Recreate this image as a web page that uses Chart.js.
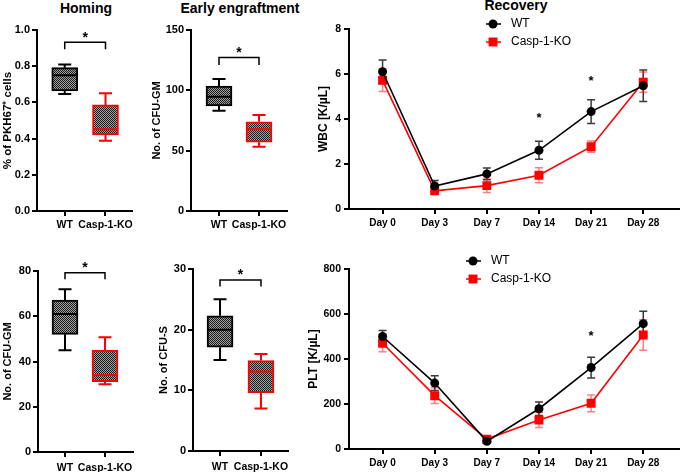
<!DOCTYPE html>
<html>
<head>
<meta charset="utf-8">
<script src="https://cdn.jsdelivr.net/npm/chart.js@4.4.1/dist/chart.umd.min.js"></script>
<style>
    body { margin: 0; background: #fff; width: 685px; height: 472px; position: relative; overflow: hidden; font-family: "Liberation Sans", Arial, sans-serif; }
    canvas { position: absolute; }
    .ttl { position: absolute; width: 160px; text-align: center; font-weight: bold; font-size: 14px; line-height: 14px; white-space: nowrap; }
</style>
</head>
<body>
<div class="ttl" style="left:6px; top:1px;">Homing</div>
<div class="ttl" style="left:160px; top:1px;">Early engraftment</div>
<div class="ttl" style="left:436px; top:-2px;">Recovery</div>

<canvas id="homing" width="150" height="240" style="left:0; top:0;"></canvas>
<canvas id="engraft" width="150" height="240" style="left:150px; top:0;"></canvas>
<canvas id="wbc" width="385" height="240" style="left:300px; top:0;"></canvas>
<canvas id="cfugm" width="150" height="232" style="left:0; top:240px;"></canvas>
<canvas id="cfus" width="150" height="232" style="left:150px; top:240px;"></canvas>
<canvas id="plt" width="385" height="232" style="left:300px; top:240px;"></canvas>

<script>
// box plots: [min, q1, median, q3, max]
const groups = ['WT', 'Casp-1-KO'];
const homingWT = [0.646, 0.664, 0.75, 0.792, 0.81];
const homingKO = [0.388, 0.42, 0.451, 0.586, 0.65];
const engraftWT = [83, 87, 94.7, 103.6, 109.4];
const engraftKO = [53.3, 57, 67.7, 74, 79.5];
const cfugmWT = [45, 52, 61, 67.2, 71.9];
const cfugmKO = [29.9, 31.1, 34, 45, 50.7];
const cfusWT = [15, 17.1, 20, 22.3, 25];
const cfusKO = [7, 9.6, 13.1, 14.9, 16];

// significance brackets: [bar, ends, star]
const homingSig = [0.932, 0.893, 0.975];
const engraftSig = [127.3, 121, 134.5];
const cfugmSig = [79.2, 76.3, 83.2];
const cfusSig = [28.2, 27.1, 29.7];

// recovery time course (mean, SEM)
const days = ['Day 0', 'Day 3', 'Day 7', 'Day 14', 'Day 21', 'Day 28'];
const wbcWT = [6.1, 1.02, 1.56, 2.61, 4.33, 5.48];
const wbcWTErr = [0.52, 0.25, 0.26, 0.4, 0.53, 0.7];
const wbcKO = [5.72, 0.81, 1.04, 1.5, 2.77, 5.64];
const wbcKOErr = [0.5, 0.12, 0.31, 0.33, 0.25, 0.45];
const wbcStars = [null, null, null, 4.18, 5.84, null];
const pltWT = [500, 293, 34, 179, 362, 557];
const pltWTErr = [27, 33, 8, 30, 46, 55];
const pltKO = [470, 237, 44, 129, 203, 507];
const pltKOErr = [38, 35, 10, 33, 37, 68];
const pltStars = [null, null, null, null, 515, null];

const FONT = '"Liberation Sans", Arial, sans-serif';
Chart.defaults.font.family = FONT;
Chart.defaults.color = '#000';

const axisGrid = { drawOnChartArea: false, drawTicks: true, tickLength: 5, color: '#000', lineWidth: 2 };
const axisBorder = { color: '#000', width: 2 };

function drawStar(ctx, x, yc, size) {
    ctx.font = 'bold ' + size + 'px ' + FONT;
    ctx.fillStyle = '#000';
    ctx.textAlign = 'center';
    ctx.textBaseline = 'alphabetic';
    ctx.fillText('*', x, yc + 0.56 * size);
}

function checker(ctx) {
    const tile = document.createElement('canvas');
    tile.width = 2; tile.height = 2;
    const g = tile.getContext('2d');
    g.fillStyle = '#a0a0a0'; g.fillRect(0, 0, 2, 2);
    g.fillStyle = '#1c1c1c'; g.fillRect(0, 0, 1, 1); g.fillRect(1, 1, 1, 1);
    return ctx.createPattern(tile, 'repeat');
}

const boxExtras = {
    id: 'boxExtras',
    afterDatasetsDraw(chart, args, o) {
        const { ctx, scales: { x, y } } = chart;
        ctx.save();
        ctx.lineWidth = 2;
        o.stats.forEach((s, i) => {
            const cx = x.getPixelForValue(i);
            ctx.strokeStyle = o.colors[i];
            ctx.beginPath();
            ctx.moveTo(cx, y.getPixelForValue(s[3])); ctx.lineTo(cx, y.getPixelForValue(s[4]));
            ctx.moveTo(cx, y.getPixelForValue(s[1])); ctx.lineTo(cx, y.getPixelForValue(s[0]));
            [s[0], s[4]].forEach(v => {
                const py = y.getPixelForValue(v);
                ctx.moveTo(cx - o.cap, py); ctx.lineTo(cx + o.cap, py);
            });
            const pm = y.getPixelForValue(s[2]);
            ctx.moveTo(cx - o.half, pm); ctx.lineTo(cx + o.half, pm);
            ctx.stroke();
        });
        const [bar, end, star] = o.bracket;
        const x0 = x.getPixelForValue(0), x1 = x.getPixelForValue(1);
        ctx.strokeStyle = '#000';
        ctx.lineWidth = 1.5;
        ctx.beginPath();
        ctx.moveTo(x0, y.getPixelForValue(end));
        ctx.lineTo(x0, y.getPixelForValue(bar));
        ctx.lineTo(x1, y.getPixelForValue(bar));
        ctx.lineTo(x1, y.getPixelForValue(end));
        ctx.stroke();
        drawStar(ctx, (x0 + x1) / 2, y.getPixelForValue(star), 14);
        ctx.restore();
    }
};

function boxChart(id, stats, bracket, opt) {
    const el = document.getElementById(id);
    const cols = ['#000000', '#ff0000'];
    new Chart(el, {
        type: 'bar',
        data: {
            datasets: [{
                data: stats.map((s, i) => ({ x: i, y: [s[1], s[3]] })),
                backgroundColor: checker(el.getContext('2d')),
                borderColor: cols,
                borderWidth: 2,
                borderSkipped: false,
                barThickness: 26
            }]
        },
        options: {
            responsive: false,
            animation: false,
            layout: { padding: opt.pad },
            plugins: {
                legend: { display: false },
                tooltip: { enabled: false },
                boxExtras: { stats: stats, bracket: bracket, colors: cols, cap: 6.5, half: 12 }
            },
            scales: {
                x: {
                    type: 'linear', min: opt.xmin, max: opt.xmax, offset: false,
                    afterBuildTicks: a => { a.ticks = groups.map((g, i) => ({ value: i })); },
                    ticks: { callback: v => groups[v], font: { size: 10.5, weight: 'bold' }, padding: opt.xpad, maxRotation: 0, autoSkip: false },
                    grid: Object.assign({ offset: false }, axisGrid),
                    border: axisBorder,
                    afterFit: s => { s.height = opt.xh; s.paddingLeft = 0; s.paddingRight = 0; }
                },
                y: {
                    min: 0, max: opt.ymax,
                    ticks: { stepSize: opt.step, callback: opt.fmt, font: { size: 11, weight: 'bold' }, padding: 2 },
                    title: { display: true, text: opt.title, font: { size: opt.ts, weight: 'bold' }, padding: { top: opt.tp, bottom: 0 } },
                    grid: axisGrid,
                    border: axisBorder,
                    afterFit: s => { s.width = opt.yw; s.paddingTop = 0; s.paddingBottom = 0; }
                }
            }
        },
        plugins: [boxExtras]
    });
}

const errorBars = {
    id: 'errorBars',
    beforeDatasetsDraw(chart) {
        const { ctx, scales: { y } } = chart;
        ctx.save();
        ctx.lineWidth = 1.5;
        chart.data.datasets.forEach((ds, di) => {
            const meta = chart.getDatasetMeta(di);
            ctx.strokeStyle = ds.errColor;
            meta.data.forEach((pt, i) => {
                const v = ds.data[i].y, e = ds.err[i];
                const top = y.getPixelForValue(v + e), bot = y.getPixelForValue(v - e);
                ctx.beginPath();
                ctx.moveTo(pt.x, top); ctx.lineTo(pt.x, bot);
                ctx.moveTo(pt.x - 4, top); ctx.lineTo(pt.x + 4, top);
                ctx.moveTo(pt.x - 4, bot); ctx.lineTo(pt.x + 4, bot);
                ctx.stroke();
            });
        });
        ctx.restore();
    },
    afterDatasetsDraw(chart, args, o) {
        const { ctx, scales: { x, y } } = chart;
        ctx.save();
        o.stars.forEach((v, i) => {
            if (v !== null) drawStar(ctx, x.getPixelForValue(i), y.getPixelForValue(v), 13);
        });
        ctx.restore();
    }
};

const lineLegend = {
    id: 'lineLegend',
    afterDraw(chart, args, o) {
        const ctx = chart.ctx;
        ctx.save();
        chart.data.datasets.forEach((ds, i) => {
            const yy = o.y + i * o.dy;
            ctx.strokeStyle = ds.borderColor;
            ctx.lineWidth = 1.5;
            ctx.beginPath(); ctx.moveTo(o.x - 7, yy); ctx.lineTo(o.x + 8, yy); ctx.stroke();
            ctx.fillStyle = ds.backgroundColor;
            if (ds.pointStyle === 'rect') {
                const s = ds.pointRadius * Math.SQRT1_2;
                ctx.fillRect(o.x - s, yy - s, 2 * s, 2 * s);
            } else {
                ctx.beginPath(); ctx.arc(o.x, yy, ds.pointRadius, 0, Math.PI * 2); ctx.fill();
            }
            ctx.fillStyle = '#000';
            ctx.font = '12px ' + FONT;
            ctx.textAlign = 'left';
            ctx.textBaseline = 'middle';
            ctx.fillText(ds.label, o.tx, yy);
        });
        ctx.restore();
    }
};

function lineChart(id, wt, wtErr, ko, koErr, stars, opt) {
    new Chart(document.getElementById(id), {
        type: 'line',
        data: {
            datasets: [
                {
                    label: 'WT', data: wt.map((v, i) => ({ x: i, y: v })), err: wtErr, errColor: '#3a3a3a',
                    borderColor: '#000000', backgroundColor: '#000000', borderWidth: 1.6,
                    pointStyle: 'circle', pointRadius: 4.5, pointBorderWidth: 0
                },
                {
                    label: 'Casp-1-KO', data: ko.map((v, i) => ({ x: i, y: v })), err: koErr, errColor: 'rgba(255,0,0,0.5)',
                    borderColor: '#ff0000', backgroundColor: '#ff0000', borderWidth: 1.6,
                    pointStyle: 'rect', pointRadius: 6.3, pointBorderWidth: 0
                }
            ]
        },
        options: {
            responsive: false,
            animation: false,
            layout: { padding: opt.pad },
            plugins: {
                legend: { display: false },
                tooltip: { enabled: false },
                errorBars: { stars: stars },
                lineLegend: opt.legend
            },
            scales: {
                x: {
                    type: 'linear', min: -0.644, max: 5.68,
                    afterBuildTicks: a => { a.ticks = days.map((d, i) => ({ value: i })); },
                    ticks: { callback: v => days[v], font: { size: 10, weight: 'bold' }, padding: 3, maxRotation: 0, autoSkip: false },
                    grid: axisGrid,
                    border: axisBorder,
                    afterFit: s => { s.height = opt.xh; s.paddingLeft = 0; s.paddingRight = 0; }
                },
                y: {
                    min: 0, max: opt.ymax,
                    ticks: { stepSize: opt.step, font: { size: 10.5, weight: 'bold' }, padding: 3 },
                    title: { display: true, text: opt.title, font: { size: 12, weight: 'bold' }, padding: { top: opt.tp, bottom: 0 } },
                    grid: axisGrid,
                    border: axisBorder,
                    afterFit: s => { s.width = 49; s.paddingTop = 0; s.paddingBottom = 0; }
                }
            }
        },
        plugins: [errorBars, lineLegend]
    });
}

boxChart('homing', [homingWT, homingKO], homingSig, {
    pad: { left: 0, top: 30, right: 18, bottom: 4 }, xh: 25, yw: 37, xpad: 3, tp: 1, ts: 11.5,
    xmin: -0.68, xmax: 1.65, ymax: 1, step: 0.2, fmt: v => v.toFixed(1), title: '% of PKH67\u207A cells'
});
boxChart('engraft', [engraftWT, engraftKO], engraftSig, {
    pad: { left: 0, top: 30, right: 13, bottom: 4 }, xh: 25, yw: 41, xpad: 3, tp: 0, ts: 11,
    xmin: -0.7, xmax: 1.7, ymax: 150, step: 50, fmt: v => v, title: 'No. of CFU-GM'
});
boxChart('cfugm', [cfugmWT, cfugmKO], cfugmSig, {
    pad: { left: 0, top: 31, right: 17, bottom: 0 }, xh: 20, yw: 38, xpad: 5, tp: 1, ts: 11,
    xmin: -0.675, xmax: 1.7, ymax: 80, step: 20, fmt: v => v, title: 'No. of CFU-GM'
});
boxChart('cfus', [cfusWT, cfusKO], cfusSig, {
    pad: { left: 0, top: 29, right: 12, bottom: 0 }, xh: 21, yw: 43, xpad: 5, tp: 7, ts: 11,
    xmin: -0.66, xmax: 1.66, ymax: 30, step: 10, fmt: v => v, title: 'No. of CFU-S'
});

lineChart('wbc', wbcWT, wbcWTErr, wbcKO, wbcKOErr, wbcStars, {
    pad: { left: 0, top: 29, right: 2, bottom: 6 }, xh: 25, tp: 16, ymax: 8, step: 2, title: 'WBC [K/\u00B5L]',
    legend: { x: 193, y: 24, dy: 18, tx: 211 }
});
lineChart('plt', pltWT, pltWTErr, pltKO, pltKOErr, pltStars, {
    pad: { left: 0, top: 29, right: 2, bottom: 2 }, xh: 21, tp: 6, ymax: 800, step: 200, title: 'PLT [K/\u00B5L]',
    legend: { x: 173, y: 21, dy: 18, tx: 191 }
});
</script>
</body>
</html>
